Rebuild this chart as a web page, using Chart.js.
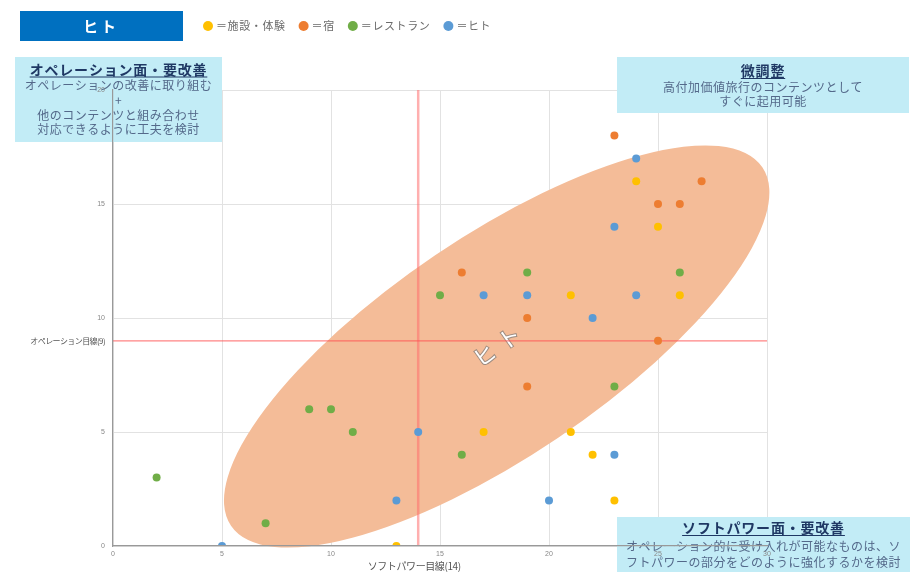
<!DOCTYPE html>
<html><head><meta charset="utf-8">
<script src="https://cdn.jsdelivr.net/npm/chart.js@4/dist/chart.umd.min.js"></script>
<style>html,body{margin:0;padding:0;background:#fff;}#wrap{width:918px;height:572px;position:relative;}</style>
</head><body><div id="wrap"><canvas id="c" width="918" height="572"></canvas></div>
<script>
// ---- data ----
const chartTitle = 'ヒト';
const seriesNames = ['施設・体験', '宿', 'レストラン', 'ヒト'];
const seriesColors = ['#FFC000', '#ED7D31', '#70AD47', '#5B9BD5'];
const facilityX = [13, 24, 25, 21, 26, 17, 21, 22, 23];
const facilityY = [0, 16, 14, 11, 11, 5, 5, 4, 2];
const lodgingX = [23, 27, 25, 26, 16, 19, 25, 19];
const lodgingY = [18, 16, 15, 15, 12, 10, 9, 7];
const restaurantX = [2, 7, 9, 10, 11, 15, 19, 16, 23, 26];
const restaurantY = [3, 1, 6, 6, 5, 11, 12, 4, 7, 12];
const peopleX = [5, 13, 14, 17, 19, 22, 24, 23, 24, 20, 23];
const peopleY = [0, 2, 5, 11, 11, 10, 17, 14, 11, 2, 4];
const xTickValues = [0, 5, 10, 15, 20, 25, 30];
const yTickValues = [0, 5, 10, 15, 20];
const softPowerTarget = 14;
const operationTarget = 9;
const softPowerLabel = 'ソフトパワー目線(14)';
const operationLabel = 'オペレーション目線(9)';
const clusterLabel = 'ヒト';
const clusterCenterX = 17.6;
const clusterCenterY = 8.75;
const quadrantNotes = [
  {title: 'オペレーション面・要改善', lines: ['オペレーションの改善に取り組む', '+', '他のコンテンツと組み合わせ', '対応できるように工夫を検討']},
  {title: '微調整', lines: ['高付加価値旅行のコンテンツとして', 'すぐに起用可能']},
  {title: 'ソフトパワー面・要改善', lines: ['オペレーション的に受け入れが可能なものは、ソ', 'フトパワーの部分をどのように強化するかを検討']}
];

const zip = (xs, ys) => xs.map((v, i) => ({x: v, y: ys[i]}));
const seriesData = [zip(facilityX, facilityY), zip(lodgingX, lodgingY), zip(restaurantX, restaurantY), zip(peopleX, peopleY)];

const JP = '"Noto Sans CJK JP", "Noto Sans", sans-serif';

function drawNote(ctx, note, bx, by, bw, bh, titleY, lineYs) {
  ctx.fillStyle = '#C2ECF6';
  ctx.fillRect(bx, by, bw, bh);
  const cx = bx + bw / 2;
  ctx.textAlign = 'center';
  ctx.textBaseline = 'middle';
  ctx.font = 'bold 14px ' + JP;
  ctx.letterSpacing = '0.8px';
  ctx.fillStyle = '#1F3864';
  ctx.fillText(note.title, cx, titleY);
  const tw = ctx.measureText(note.title).width;
  ctx.strokeStyle = '#1F3864';
  ctx.lineWidth = 1;
  ctx.beginPath();
  ctx.moveTo(cx - tw / 2, titleY + 7.5);
  ctx.lineTo(cx + tw / 2, titleY + 7.5);
  ctx.stroke();
  ctx.font = '12px ' + JP;
  ctx.letterSpacing = '0.5px';
  ctx.fillStyle = '#54698A';
  note.lines.forEach((l, i) => ctx.fillText(l, cx, lineYs[i]));
  ctx.letterSpacing = '0px';
}

const annotations = {
  id: 'annotations',
  beforeDatasetsDraw(chart) {
    const {ctx, chartArea: a, scales: {x, y}} = chart;
    const ux = x.getPixelForValue(1) - x.getPixelForValue(0);
    ctx.save();
    // cluster ellipse
    const ex = x.getPixelForValue(clusterCenterX), ey = y.getPixelForValue(clusterCenterY);
    ctx.beginPath();
    ctx.ellipse(ex, ey, 14.7 * ux, 5.05 * ux, -34 * Math.PI / 180, 0, Math.PI * 2);
    ctx.fillStyle = '#F4BC98';
    ctx.fill();
    // cluster label
    ctx.save();
    ctx.translate(ex, ey);
    ctx.rotate(-35 * Math.PI / 180);
    ctx.font = '22px ' + JP;
    ctx.letterSpacing = '8px';
    ctx.textAlign = 'center';
    ctx.textBaseline = 'middle';
    ctx.lineWidth = 2;
    ctx.strokeStyle = 'rgba(120,120,120,0.7)';
    ctx.strokeText(clusterLabel, 4, 0);
    ctx.fillStyle = '#ffffff';
    ctx.fillText(clusterLabel, 4, 0);
    ctx.restore();
    // target lines
    const vx = x.getPixelForValue(softPowerTarget);
    ctx.strokeStyle = 'rgba(255,110,110,0.55)';
    ctx.lineWidth = 2.5;
    ctx.beginPath(); ctx.moveTo(vx, a.top); ctx.lineTo(vx, a.bottom); ctx.stroke();
    const hy = y.getPixelForValue(operationTarget);
    ctx.strokeStyle = 'rgba(255,80,80,0.7)';
    ctx.lineWidth = 1.3;
    ctx.beginPath(); ctx.moveTo(a.left, hy); ctx.lineTo(a.right, hy); ctx.stroke();
    // target labels
    ctx.fillStyle = '#555';
    ctx.textBaseline = 'middle';
    ctx.font = '8px ' + JP;
    ctx.letterSpacing = '-0.6px';
    ctx.textAlign = 'right';
    ctx.fillText(operationLabel, a.left - 8, hy);
    ctx.font = '10px ' + JP;
    ctx.letterSpacing = '-0.4px';
    ctx.textAlign = 'center';
    ctx.fillText(softPowerLabel, vx - 4, a.bottom + 20);
    ctx.letterSpacing = '0px';
    // quadrant notes
    drawNote(ctx, quadrantNotes[0], 15, 57, 207, 85, 69.5, [85, 100, 115, 129]);
    drawNote(ctx, quadrantNotes[1], 617, 57, 292, 56, 71, [87, 101]);
    drawNote(ctx, quadrantNotes[2], 617, 517, 293, 55, 528, [546, 562]);
    // title box
    ctx.fillStyle = '#0070C0';
    ctx.fillRect(20, 11, 163, 30);
    ctx.fillStyle = '#fff';
    ctx.font = 'bold 15px ' + JP;
    ctx.letterSpacing = '3px';
    ctx.textAlign = 'center';
    ctx.fillText(chartTitle, 101, 26);
    // legend
    ctx.font = '11px ' + JP;
    ctx.letterSpacing = '0.6px';
    ctx.textAlign = 'left';
    let lx = 208;
    seriesNames.forEach((n, i) => {
      ctx.fillStyle = seriesColors[i];
      ctx.beginPath(); ctx.arc(lx, 26, 5, 0, Math.PI * 2); ctx.fill();
      ctx.fillStyle = '#6b6b6b';
      const t = '＝' + n;
      ctx.fillText(t, lx + 8, 26);
      lx += 8 + ctx.measureText(t).width + 18;
    });
    ctx.restore();
  }
};

const tickFont = {family: 'Liberation Sans', size: 7};
new Chart(document.getElementById('c'), {
  type: 'scatter',
  data: {
    datasets: seriesNames.map((n, i) => ({
      label: n,
      data: seriesData[i],
      backgroundColor: seriesColors[i],
      borderWidth: 0,
      pointRadius: 4,
      pointHoverRadius: 4
    }))
  },
  options: {
    responsive: false,
    animation: false,
    devicePixelRatio: 1,
    layout: {padding: {left: 0, top: 90, right: 151, bottom: 0}},
    plugins: {legend: {display: false}, tooltip: {enabled: false}, title: {display: false}},
    scales: {
      x: {
        type: 'linear', min: 0, max: 30,
        afterBuildTicks: s => { s.ticks = xTickValues.map(v => ({value: v})); },
        afterFit: s => { s.height = 26; },
        ticks: {font: tickFont, color: '#888', padding: 4, z: 1},
        grid: {color: '#e2e2e2', drawTicks: false},
        border: {color: '#999', width: 1.2, z: 1}
      },
      y: {
        type: 'linear', min: 0, max: 20,
        afterBuildTicks: s => { s.ticks = yTickValues.map(v => ({value: v})); },
        afterFit: s => { s.width = 113; },
        ticks: {font: tickFont, color: '#888', padding: 8, z: 1},
        grid: {color: '#e2e2e2', drawTicks: false},
        border: {color: '#999', width: 1.2, z: 1}
      }
    }
  },
  plugins: [annotations]
});
</script>
</body></html>
